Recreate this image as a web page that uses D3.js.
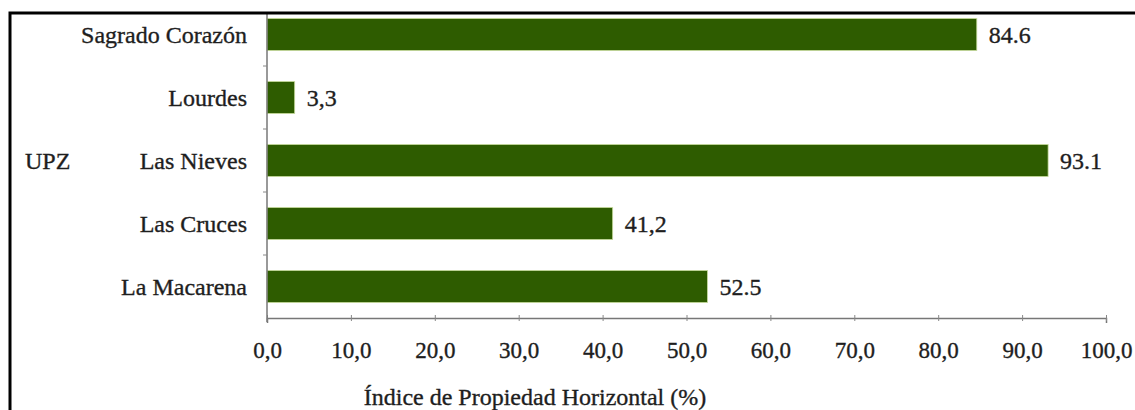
<!DOCTYPE html>
<html>
<head>
<meta charset="utf-8">
<script src="https://cdn.jsdelivr.net/npm/d3@7"></script>
<style>
  body { margin: 0; background: #fff; }
  svg { display: block; }
  text { font-family: "Liberation Serif", "Times New Roman", Times, serif; fill: #1e1e1e; stroke: #1e1e1e; stroke-width: 0.35px; }
</style>
</head>
<body>
<svg id="chart" width="1135" height="410"></svg>
<script>
// data
const categories = ['Sagrado Corazón', 'Lourdes', 'Las Nieves', 'Las Cruces', 'La Macarena'];
const values = [84.6, 3.3, 93.1, 41.2, 52.5];
const valueLabels = ['84.6', '3,3', '93.1', '41,2', '52.5'];
const tickValues = [0, 10, 20, 30, 40, 50, 60, 70, 80, 90, 100];
const tickLabels = ['0,0', '10,0', '20,0', '30,0', '40,0', '50,0', '60,0', '70,0', '80,0', '90,0', '100,0'];

const width = 1135;
const height = 410;
const plot = { left: 267, right: 1106, top: 3, bottom: 318 };

const svg = d3.select('#chart');

const x = d3.scaleLinear().domain([0, 100]).range([plot.left, plot.right]);
const y = d3.scaleBand()
    .domain(categories)
    .range([plot.top, plot.bottom])
    .paddingInner(0.49)
    .paddingOuter(0.245);

// bars
svg.append('g')
    .selectAll('rect')
    .data(values)
    .enter()
    .append('rect')
    .attr('x', x(0))
    .attr('y', (d, i) => y(categories[i]))
    .attr('width', d => x(d) - x(0))
    .attr('height', y.bandwidth())
    .attr('fill', '#2e5c00')
    .attr('stroke', '#c9dca0')
    .attr('stroke-width', 0.8);

// value labels
svg.append('g')
    .selectAll('text')
    .data(values)
    .enter()
    .append('text')
    .attr('x', d => x(d) + 12)
    .attr('y', (d, i) => y(categories[i]) + y.bandwidth() / 2)
    .attr('dy', '0.35em')
    .attr('font-size', 24)
    .text((d, i) => valueLabels[i]);

// x axis
const xAxis = svg.append('g')
    .attr('transform', `translate(0,${plot.bottom})`)
    .call(d3.axisBottom(x)
        .tickValues(tickValues)
        .tickSize(5)
        .tickPadding(19)
        .tickFormat((d, i) => tickLabels[i]));
xAxis.select('.domain').attr('stroke', '#777').attr('stroke-width', 1.5);
xAxis.selectAll('.tick line').attr('stroke', '#888').attr('y1', -3).attr('y2', 3);
xAxis.selectAll('.tick text')
    .attr('font-size', 23)
    .attr('font-family', '"Liberation Serif", "Times New Roman", serif')
    .attr('fill', '#1e1e1e');

// y axis
const yTicks = categories.map(c => y(c) - y.step() * y.paddingInner() / 2).slice(1);
const yAxis = svg.append('g');
yAxis.append('line')
    .attr('x1', plot.left).attr('x2', plot.left)
    .attr('y1', 12).attr('y2', plot.bottom + 4)
    .attr('stroke', '#777').attr('stroke-width', 1.5);
yAxis.selectAll('line.tick')
    .data(yTicks)
    .enter()
    .append('line')
    .attr('class', 'tick')
    .attr('x1', plot.left - 4).attr('x2', plot.left)
    .attr('y1', d => d).attr('y2', d => d)
    .attr('stroke', '#888');
yAxis.selectAll('text')
    .data(categories)
    .enter()
    .append('text')
    .attr('x', 247)
    .attr('y', d => y(d) + y.bandwidth() / 2)
    .attr('dy', '0.35em')
    .attr('text-anchor', 'end')
    .attr('font-size', 24)
    .text(d => d);

// axis titles
svg.append('text')
    .attr('x', 25)
    .attr('y', y('Las Nieves') + y.bandwidth() / 2)
    .attr('dy', '0.35em')
    .attr('font-size', 24)
    .text('UPZ');

svg.append('text')
    .attr('x', 535)
    .attr('y', 397)
    .attr('dy', '0.35em')
    .attr('text-anchor', 'middle')
    .attr('font-size', 24)
    .text('Índice de Propiedad Horizontal (%)');

// frame (only top and left edges are in view)
svg.append('path')
    .attr('d', `M10,${height} V13 H${width}`)
    .attr('fill', 'none')
    .attr('stroke', '#000')
    .attr('stroke-width', 3);
</script>
</body>
</html>
